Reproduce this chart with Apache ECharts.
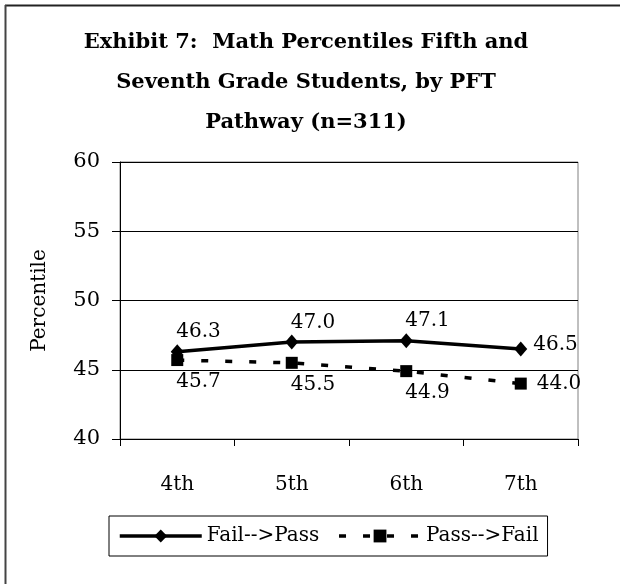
<!DOCTYPE html>
<html>
<head>
<meta charset="utf-8">
<script src="https://cdn.jsdelivr.net/npm/echarts@6/dist/echarts.min.js"></script>
<style>
html,body{margin:0;padding:0;background:#fff;}
#chart{width:620px;height:584px;}
</style>
</head>
<body>
<div id="chart"></div>
<script>
var categories = ['4th', '5th', '6th', '7th'];
var failToPass = [46.3, 47.0, 47.1, 46.5];
var passToFail = [45.7, 45.5, 44.9, 44.0];
var seriesNames = ['Fail-->Pass', 'Pass-->Fail'];
var yTicks = {min: 40, max: 60, interval: 5};
var titleText = 'Exhibit 7:  Math Percentiles Fifth and\nSeventh Grade Students, by PFT\nPathway (n=311)';

var FONT = 'DejaVu Serif';

function buildData(values, normalLabel, lastLabel) {
  return values.map(function (v, i) {
    return {value: v, label: i === values.length - 1 ? lastLabel : normalLabel};
  });
}

var chart = echarts.init(document.getElementById('chart'), null, {renderer: 'canvas'});
chart.setOption({
  animation: false,
  backgroundColor: '#fff',
  textStyle: {fontFamily: FONT, color: '#000'},
  title: {
    text: titleText,
    left: 301,
    top: 18,
    textAlign: 'center',
    textStyle: {fontFamily: FONT, fontWeight: 'bold', fontSize: 21, lineHeight: 40, color: '#000'}
  },
  graphic: [
    {type: 'line', shape: {x1: 5, y1: 5.5, x2: 620, y2: 5.5}, style: {stroke: '#222', lineWidth: 2}, silent: true},
    {type: 'line', shape: {x1: 5.5, y1: 5, x2: 5.5, y2: 584}, style: {stroke: '#444', lineWidth: 2}, silent: true}
  ],
  grid: {left: 120, right: 42, top: 162, bottom: 145, show: true, borderColor: '#808080', borderWidth: 1},
  legend: {
    data: seriesNames,
    left: 109,
    top: 516,
    orient: 'horizontal',
    itemWidth: 82,
    itemHeight: 16,
    itemGap: 18,
    padding: [10, 9, 10, 9],
    borderColor: '#000',
    borderWidth: 1,
    lineStyle: {width: 3.5},
    textStyle: {fontFamily: FONT, fontSize: 20, color: '#000'}
  },
  xAxis: {
    type: 'category',
    data: categories,
    boundaryGap: true,
    axisLine: {lineStyle: {color: '#000', width: 1}},
    axisTick: {show: true, length: 7, lineStyle: {color: '#000'}},
    axisLabel: {fontFamily: FONT, fontSize: 20, color: '#000', margin: 36}
  },
  yAxis: {
    type: 'value',
    min: yTicks.min,
    max: yTicks.max,
    interval: yTicks.interval,
    name: 'Percentile',
    nameLocation: 'middle',
    nameGap: 70,
    nameTextStyle: {fontFamily: FONT, fontSize: 20, color: '#000'},
    axisLine: {show: true, lineStyle: {color: '#000', width: 1}},
    axisTick: {show: true, length: 8, lineStyle: {color: '#000'}},
    axisLabel: {fontFamily: FONT, fontSize: 21, color: '#000', margin: 20},
    splitLine: {show: true, lineStyle: {color: '#000', width: 1}}
  },
  series: [
    {
      name: seriesNames[0],
      type: 'line',
      data: buildData(failToPass,
        {show: true, position: 'top', align: 'left', distance: 2, offset: [-1, 0]},
        {show: true, position: 'right', align: 'left', distance: 6, offset: [0, -4]}),
      symbol: 'diamond',
      symbolSize: [13, 15],
      itemStyle: {color: '#000'},
      lineStyle: {color: '#000', width: 3.5, type: 'solid'},
      label: {fontFamily: FONT, fontSize: 20, color: '#000', formatter: function (p) { return p.value.toFixed(1); }},
      z: 3
    },
    {
      name: seriesNames[1],
      type: 'line',
      data: buildData(passToFail,
        {show: true, position: 'bottom', align: 'left', distance: 6, offset: [-1, 0]},
        {show: true, position: 'right', align: 'left', distance: 10, offset: [0, 0]}),
      symbol: 'rect',
      symbolSize: 12,
      itemStyle: {color: '#000'},
      lineStyle: {color: '#000', width: 3.5, type: [7, 17]},
      label: {fontFamily: FONT, fontSize: 20, color: '#000', formatter: function (p) { return p.value.toFixed(1); }},
      z: 2
    }
  ]
});
</script>
</body>
</html>
